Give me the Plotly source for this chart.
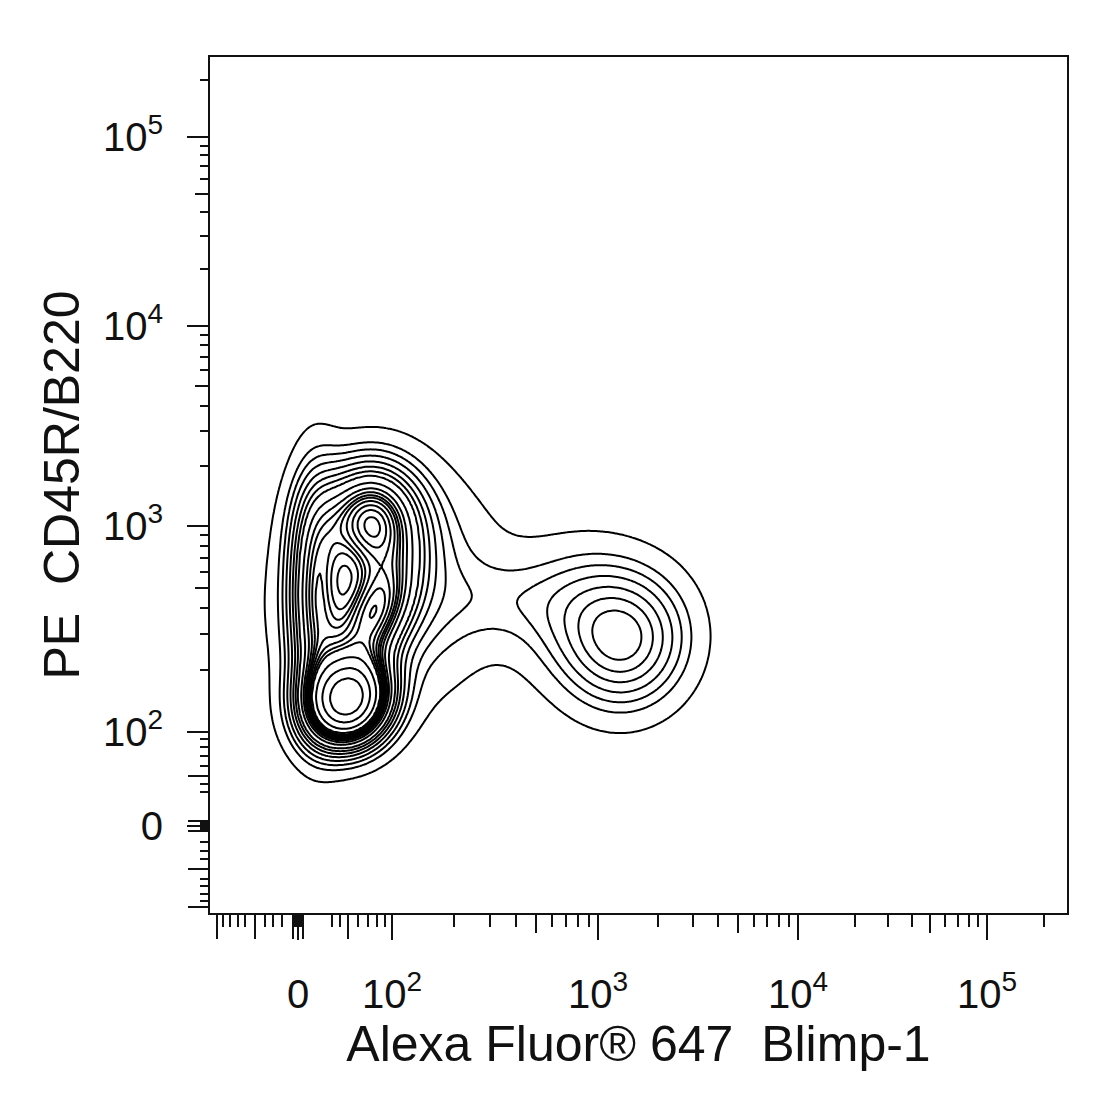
import numpy as np
import plotly.graph_objects as go

# ---------------- data (display units of the biexponential axes) ----------------
# Populations: centre x, centre y, spread x, spread y, correlation, weight
POP_NAMES = ["Blimp-1+ core", "Blimp-1+ shoulder", "neck", "B220 low peak", "B220 high peak",
             "bridge", "left edge", "broad"]
POP_CX = [1.640, 1.420, 1.030, 0.250, 0.360, 0.370, 0.090, 0.450]
POP_CY = [0.920, 1.080, 1.130, 0.630, 1.530, 1.050, 1.150, 1.170]
POP_SX = [0.200, 0.220, 0.220, 0.130, 0.160, 0.140, 0.085, 0.320]
POP_SY = [0.215, 0.220, 0.140, 0.140, 0.180, 0.200, 0.350, 0.340]
POP_RHO = [0.05, 0.0, 0.0, 0.10, 0.0, 0.45, 0.0, 0.10]
POP_W = [0.10, 0.05, 0.013, 0.22, 0.16, 0.12, 0.12, 0.15]

# probability-contour levels (fraction of events outside each line)
LEVEL_START, LEVEL_END, LEVEL_STEP = 0.0485, 0.97, 0.0485

# axis decorations
MAJOR_POS = [0.0, 0.47, 1.50, 2.50, 3.445]
MAJOR_TEXT = ["0", "10<sup>2</sup>", "10<sup>3</sup>", "10<sup>4</sup>", "10<sup>5</sup>"]
LONG_EXTRA = [-0.405, -0.215, -0.025, 0.025, 0.25]
LIN_SHORT = [-0.375, -0.34, -0.30, -0.265, -0.165, -0.125, -0.08,
             -0.015, -0.008, 0.008, 0.015, 0.17, 0.21, 0.30, 0.35, 0.395, 0.435]
X_RANGE = [-0.44, 3.845]
Y_RANGE = [-0.435, 3.845]

X_TITLE = "Alexa Fluor® 647\u00a0 Blimp-1"
Y_TITLE = "PE\u00a0 CD45R/B220"

# ---------------- derived ----------------
def decade_ticks(major):
    short, medium = [], []
    bounds = list(zip(major[1:-1], major[2:]))
    bounds.append((major[-1], major[-1] + (major[-1] - major[-2])))
    for a, b in bounds:
        for m in range(2, 10):
            p = a + np.log10(m) * (b - a)
            (medium if m == 5 else short).append(p)
    return short, medium

dec_short, dec_medium = decade_ticks(MAJOR_POS)
short_ticks = LIN_SHORT + dec_short
medium_ticks = dec_medium

xs = np.linspace(X_RANGE[0], X_RANGE[1], 430)
ys = np.linspace(Y_RANGE[0], Y_RANGE[1], 430)
X, Y = np.meshgrid(xs, ys)
D = np.zeros_like(X)
for cx, cy, sx, sy, r, w in zip(POP_CX, POP_CY, POP_SX, POP_SY, POP_RHO, POP_W):
    dx = (X - cx) / sx
    dy = (Y - cy) / sy
    q = (dx * dx - 2 * r * dx * dy + dy * dy) / (1 - r * r)
    D += w * np.exp(-0.5 * q) / (sx * sy * np.sqrt(1 - r * r))
flat = D.ravel()
order = np.argsort(-flat)
cum = np.cumsum(flat[order]) / flat.sum()
mass = np.empty_like(flat)
mass[order] = cum
Z = mass.reshape(D.shape)

FONT = "Liberation Sans, Arial, sans-serif"
INK = "#111"

fig = go.Figure()
fig.add_trace(go.Contour(
    x=xs, y=ys, z=Z,
    contours=dict(start=LEVEL_START, end=LEVEL_END, size=LEVEL_STEP, coloring="none"),
    line=dict(color="black", width=2, smoothing=0.5),
    showscale=False, hoverinfo="skip",
))
fig.add_trace(go.Scatter(x=[], y=[], xaxis="x2", yaxis="y2", showlegend=False))
fig.add_trace(go.Scatter(x=[], y=[], xaxis="x3", yaxis="y3", showlegend=False))

tick_font = dict(family=FONT, size=40, color=INK)
common = dict(showgrid=False, zeroline=False, ticks="outside", tickwidth=2, tickcolor=INK)

def overlay(base, side, vals, length):
    return dict(range=X_RANGE if base == "x" else Y_RANGE, overlaying=base,
                anchor="y" if base == "x" else "x", side=side,
                tickmode="array", tickvals=vals, ticklen=length,
                showticklabels=False, showline=False, **common)

fig.update_layout(
    width=1095, height=1095,
    margin=dict(l=210, r=28, t=57, b=182),
    paper_bgcolor="white", plot_bgcolor="white",
    showlegend=False,
    xaxis=dict(range=X_RANGE, tickmode="array",
               tickvals=MAJOR_POS, ticktext=MAJOR_TEXT,
               ticklen=25, ticklabelstandoff=20,
               showline=True, mirror=True, linewidth=2, linecolor=INK,
               tickfont=tick_font,
               minor=dict(tickmode="array", tickvals=short_ticks, ticks="outside",
                          ticklen=12, tickwidth=2, tickcolor=INK, showgrid=False),
               title=dict(text=X_TITLE, font=dict(family=FONT, size=50, color=INK), standoff=0),
               **common),
    yaxis=dict(range=Y_RANGE, tickmode="array",
               tickvals=MAJOR_POS, ticktext=MAJOR_TEXT,
               ticklen=21, ticklabelstandoff=16,
               showline=True, mirror=True, linewidth=2, linecolor=INK,
               tickfont=tick_font,
               minor=dict(tickmode="array", tickvals=short_ticks, ticks="outside",
                          ticklen=8, tickwidth=2, tickcolor=INK, showgrid=False),
               title=dict(text=Y_TITLE, font=dict(family=FONT, size=50, color=INK), standoff=7),
               **common),
    xaxis2=overlay("x", "bottom", medium_ticks, 19),
    yaxis2=overlay("y", "left", medium_ticks, 14),
    xaxis3=overlay("x", "bottom", LONG_EXTRA, 25),
    yaxis3=overlay("y", "left", LONG_EXTRA, 21),
)

fig.write_html("out.html")
